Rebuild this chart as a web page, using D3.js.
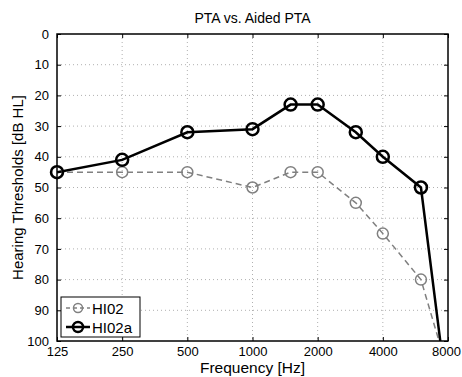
<!DOCTYPE html>
<html>
<head>
<meta charset="utf-8">
<script src="https://cdn.jsdelivr.net/npm/d3@7"></script>
<style>
  body { margin: 0; background: #fff; }
  svg { display: block; font-family: "Liberation Sans", Arial, sans-serif; }
</style>
</head>
<body>
<div id="chart"></div>
<script>
const freqs = [125, 250, 500, 1000, 1500, 2000, 3000, 4000, 6000, 8000];
const hi02 = [45, 45, 45, 50, 45, 45, 55, 65, 80, 110];
const hi02a = [45, 41, 32, 31, 23, 23, 32, 40, 50, 120];
const xTicks = [125, 250, 500, 1000, 2000, 4000, 8000];
const yTicks = [0, 10, 20, 30, 40, 50, 60, 70, 80, 90, 100];

const W = 462, H = 377;
const margin = {top: 34, right: 14, bottom: 36, left: 57};
const width = W - margin.left - margin.right;
const height = H - margin.top - margin.bottom;

const svg = d3.select("#chart").append("svg")
  .attr("width", W).attr("height", H);

const g = svg.append("g")
  .attr("transform", `translate(${margin.left},${margin.top})`);

const x = d3.scaleLog().base(2).domain([125, 8000]).range([0, width]);
const y = d3.scaleLinear().domain([0, 100]).range([0, height]);

// grid
g.append("g").selectAll("line").data(xTicks.slice(1, -1)).join("line")
  .attr("x1", d => x(d)).attr("x2", d => x(d))
  .attr("y1", 0).attr("y2", height)
  .attr("stroke", "#b0b0b0").attr("stroke-width", 1)
  .attr("stroke-dasharray", "1,3");
g.append("g").selectAll("line").data(yTicks.slice(1, -1)).join("line")
  .attr("y1", d => y(d)).attr("y2", d => y(d))
  .attr("x1", 0).attr("x2", width)
  .attr("stroke", "#b0b0b0").attr("stroke-width", 1)
  .attr("stroke-dasharray", "1,3");

// axes (inward ticks)
const fs = "13px";
const xAxisG = g.append("g").attr("transform", `translate(0,${height})`)
  .call(d3.axisBottom(x).tickValues(xTicks).tickFormat(d => d).tickSizeInner(-4).tickSizeOuter(0).tickPadding(6));
g.append("g")
  .call(d3.axisLeft(y).tickValues(yTicks).tickFormat(d => d).tickSizeInner(-4).tickSizeOuter(0).tickPadding(8));
g.append("g")
  .call(d3.axisTop(x).tickValues(xTicks).tickFormat("").tickSizeInner(-4).tickSizeOuter(0));
g.append("g").attr("transform", `translate(${width},0)`)
  .call(d3.axisRight(y).tickValues(yTicks).tickFormat("").tickSizeInner(-4).tickSizeOuter(0));
g.selectAll(".domain").remove();
g.selectAll(".tick line").attr("stroke", "#000");
g.selectAll(".tick text").attr("font-size", fs).attr("fill", "#000")
  .attr("font-family", "Liberation Sans, Arial, sans-serif");
xAxisG.selectAll(".tick text").filter(d => d === 8000).attr("dx", "-2");

g.append("rect").attr("width", width).attr("height", height)
  .attr("fill", "none").attr("stroke", "#000").attr("stroke-width", 1.5);

// clip for lines
svg.append("defs").append("clipPath").attr("id", "clip")
  .append("rect").attr("width", width).attr("height", height);

const plot = g.append("g").attr("clip-path", "url(#clip)");
const marks = g.append("g");
const line = d3.line().x(d => x(d[0])).y(d => y(d[1]));

const series = [
  {name: "HI02", values: hi02, color: "#808080", width: 1.5, dash: "6,4", r: 5.5, mw: 1.5},
  {name: "HI02a", values: hi02a, color: "#000", width: 2.5, dash: null, r: 6, mw: 2.5}
];

series.forEach(s => {
  const pts = freqs.map((f, i) => [f, s.values[i]]);
  plot.append("path").datum(pts)
    .attr("d", line).attr("fill", "none")
    .attr("stroke", s.color).attr("stroke-width", s.width)
    .attr("stroke-dasharray", s.dash);
  marks.selectAll(null).data(pts.filter(p => p[1] <= 100)).join("circle")
    .attr("cx", d => x(d[0])).attr("cy", d => y(d[1])).attr("r", s.r)
    .attr("fill", "none").attr("stroke", s.color).attr("stroke-width", s.mw);
});

// legend
const lg = g.append("g").attr("transform", "translate(4,263)");
lg.append("rect").attr("width", 79).attr("height", 40)
  .attr("fill", "#fff").attr("stroke", "#000").attr("stroke-width", 1);
series.forEach((s, i) => {
  const yy = 11 + i * 19;
  lg.append("line").attr("x1", 5).attr("x2", 29).attr("y1", yy).attr("y2", yy)
    .attr("stroke", s.color).attr("stroke-width", s.width)
    .attr("stroke-dasharray", s.dash ? "4,3" : null);
  lg.append("circle").attr("cx", 17).attr("cy", yy).attr("r", s.r - 1)
    .attr("fill", "none").attr("stroke", s.color).attr("stroke-width", s.mw);
  lg.append("text").attr("x", 31).attr("y", yy + 5.5).attr("font-size", "15px")
    .text(s.name);
});

// labels
svg.append("text").attr("x", margin.left + width / 2).attr("y", 22.5)
  .attr("text-anchor", "middle").attr("font-size", "14px").text("PTA vs. Aided PTA");
svg.append("text").attr("x", margin.left + width / 2).attr("y", 373)
  .attr("text-anchor", "middle").attr("font-size", "15.5px").text("Frequency [Hz]");
svg.append("text")
  .attr("transform", `translate(23,${margin.top + height / 2}) rotate(-90)`)
  .attr("text-anchor", "middle").attr("font-size", "15px").text("Hearing Thresholds [dB HL]");
</script>
</body>
</html>
